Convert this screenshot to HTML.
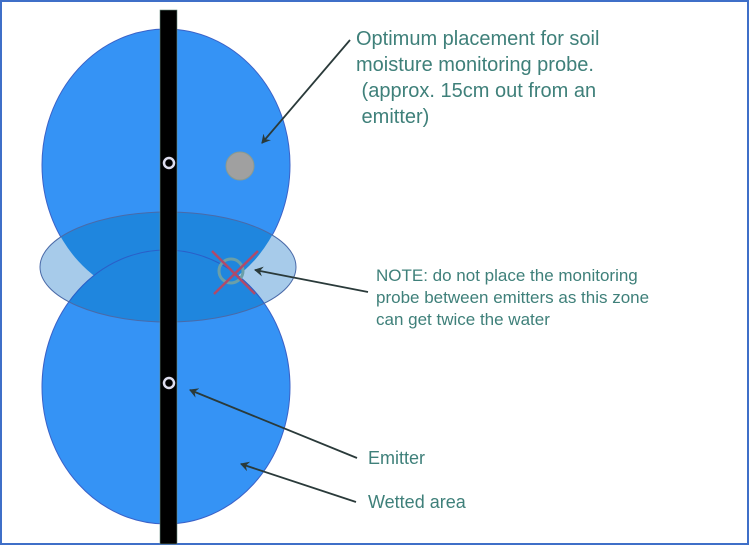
<!DOCTYPE html>
<html><head><style>
html,body{margin:0;padding:0;background:#fff;}
body{width:750px;height:546px;overflow:hidden;position:relative;font-family:"Liberation Sans",sans-serif;}
.t{position:absolute;color:#3f807a;white-space:nowrap;}
</style></head><body>
<svg width="750" height="546" style="position:absolute;left:0;top:0">
<defs>
<clipPath id="ce"><ellipse cx="168" cy="267" rx="128" ry="55"/></clipPath>
<marker id="a" markerWidth="10" markerHeight="10" refX="8" refY="5" orient="auto" markerUnits="userSpaceOnUse"><path d="M0,0 L9,5 L0,10 L3,5 z" fill="#2a3a3a"/></marker>
</defs>
<rect x="1" y="1" width="747" height="543" fill="none" stroke="#3f6fc8" stroke-width="2"/>
<ellipse cx="166" cy="165" rx="124" ry="136" fill="#3593f5" stroke="#3b62c8" stroke-width="1"/>
<ellipse cx="166" cy="387" rx="124" ry="137" fill="#3593f5" stroke="#3b62c8" stroke-width="1"/>
<ellipse cx="168" cy="267" rx="128" ry="55" fill="#a7cbea"/>
<g clip-path="url(#ce)">
<ellipse cx="166" cy="165" rx="124" ry="136" fill="#1f86de"/>
<ellipse cx="166" cy="387" rx="124" ry="137" fill="#1f86de"/>
<ellipse cx="166" cy="387" rx="124" ry="137" fill="none" stroke="#2a5fc8" stroke-width="1"/>
</g>
<ellipse cx="168" cy="267" rx="128" ry="55" fill="none" stroke="#4a6aa8" stroke-width="1"/>
<rect x="160" y="10" width="17" height="534" fill="#000" stroke="#6a8a80" stroke-width="0.6"/>
<circle cx="169" cy="163" r="5" fill="none" stroke="#dde" stroke-width="2.5"/>
<circle cx="169" cy="383" r="5" fill="none" stroke="#dde" stroke-width="2.5"/>
<circle cx="240" cy="166" r="14" fill="#a0a0a0" stroke="#8a9a90" stroke-width="1"/>
<circle cx="231" cy="271" r="12" fill="none" stroke="#6a9fa8" stroke-width="3"/>
<line x1="212" y1="251" x2="255" y2="294" stroke="#b04a6a" stroke-width="2.5"/>
<line x1="258" y1="251" x2="214" y2="294" stroke="#b04a6a" stroke-width="2.5"/>
<line x1="350" y1="40" x2="262" y2="143" stroke="#2a3a3a" stroke-width="1.8" marker-end="url(#a)"/>
<line x1="368" y1="292" x2="255" y2="270" stroke="#2a3a3a" stroke-width="1.8" marker-end="url(#a)"/>
<line x1="357" y1="458" x2="190" y2="390" stroke="#2a3a3a" stroke-width="1.8" marker-end="url(#a)"/>
<line x1="356" y1="502" x2="241" y2="464" stroke="#2a3a3a" stroke-width="1.8" marker-end="url(#a)"/>
</svg>
<div class="t" style="left:356px;top:26px;font-size:20px;line-height:26px">Optimum placement for soil<br>moisture monitoring probe.<br>&nbsp;(approx. 15cm out from an<br>&nbsp;emitter)</div>
<div class="t" style="left:376px;top:265px;font-size:17px;line-height:22px">NOTE: do not place the monitoring<br>probe between emitters as this zone<br>can get twice the water</div>
<div class="t" style="left:368px;top:448px;font-size:18px">Emitter</div>
<div class="t" style="left:368px;top:492px;font-size:18px">Wetted area</div>
</body></html>
